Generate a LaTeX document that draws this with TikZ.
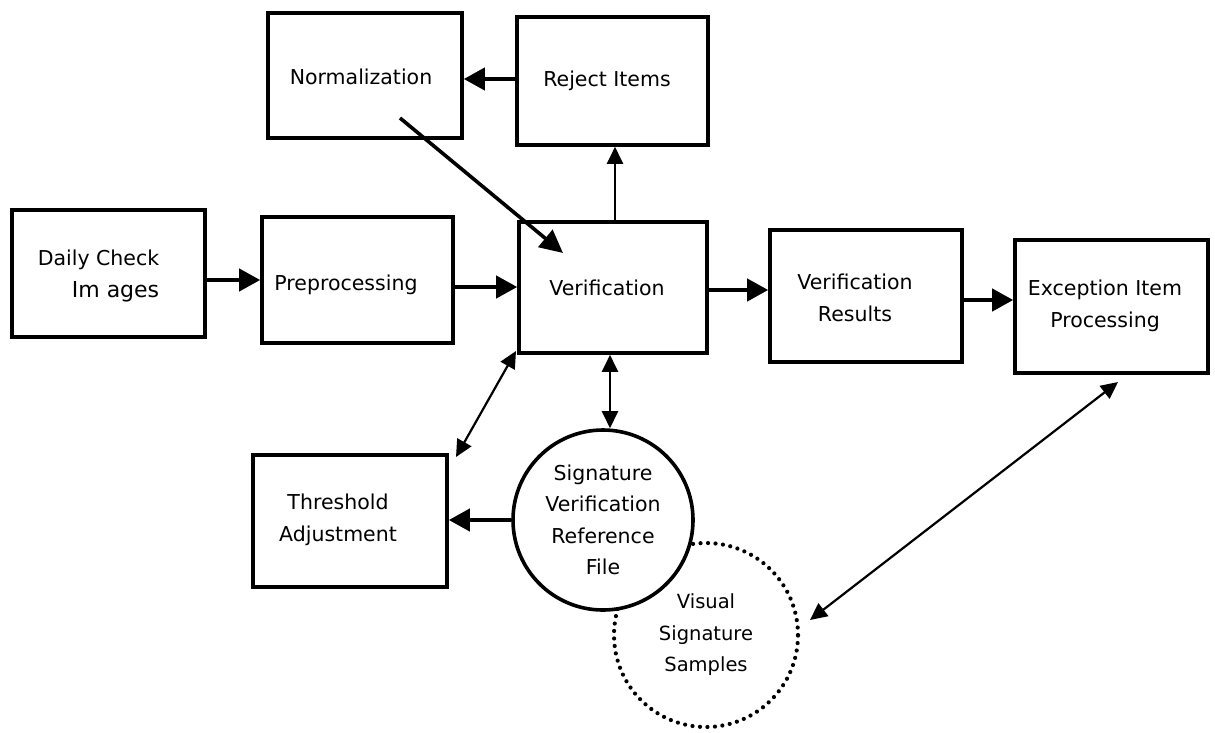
\documentclass[tikz,border=0pt]{standalone}
\usepackage{fontspec}
\setmainfont{DejaVu Sans}
\usetikzlibrary{arrows.meta,calc}
\begin{document}
\begin{tikzpicture}[x=1pt,y=-1pt,
  procbox/.style={draw, line width=3.6pt, fill=white, inner sep=0pt},
  lbl/.style={font=\fontsize{20.5}{31.5}\selectfont, align=center, inner sep=0pt},
  bigarrow/.style={line width=4pt, -{Triangle[length=21pt,width=22pt]}},
  thinarrow/.style={line width=2.2pt, -{Triangle[length=17pt,width=16pt]}},
  dblarrow/.style={line width=2.2pt, {Triangle[length=17pt,width=16pt]}-{Triangle[length=17pt,width=16pt]}},
  solidcirc/.style={circle, draw, line width=3.6pt, fill=white, inner sep=0pt, minimum size=180pt, font=\fontsize{20.5}{31.5}\selectfont, align=center},
  dotcirc/.style={circle, draw, line width=4.2pt, dash pattern=on 0pt off 7.5pt, line cap=round, inner sep=0pt, minimum size=184pt, font=\fontsize{19.5}{31.5}\selectfont, align=center}
]
\useasboundingbox (0,0) rectangle (1215,732);

% boxes
\node[procbox, minimum width=194pt, minimum height=125pt] (norm) at (365,75.5) {};
\node[procbox, minimum width=191pt, minimum height=128pt] (reject) at (612.5,81) {};
\node[procbox, minimum width=193pt, minimum height=127pt] (daily) at (108.5,273.5) {};
\node[procbox, minimum width=191pt, minimum height=126pt] (pre) at (357.5,280) {};
\node[procbox, minimum width=188pt, minimum height=131pt] (verif) at (613,287.5) {};
\node[procbox, minimum width=192pt, minimum height=132pt] (vr) at (866,296) {};
\node[procbox, minimum width=193pt, minimum height=133pt] (exc) at (1111.5,306.5) {};
\node[procbox, minimum width=194pt, minimum height=132pt] (thr) at (350,521) {};

% labels
\node[lbl] (normL) at (361,77) {Normalization};
\node[lbl] (rejectL) at (607,81) {Reject Items};
\node[lbl, align=right] (dailyL) at (98.5,276) {Daily Check\\{\fontsize{22}{31.5}\selectfont Im ages}};
\node[lbl] (preL) at (346,285) {Preprocessing};
\node[lbl] (verifL) at (607,288) {Verification};
\node[lbl] (vrL) at (855,298) {Verification\\Results};
\node[lbl] (excL) at (1105,306) {Exception Item\\Processing};
\node[lbl] (thrL) at (338,520) {Threshold\\Adjustment};

% circles
\node[dotcirc] (vis) at (706,635) {Visual\\Signature\\Samples};
\node[solidcirc] (sig) at (603,520) {Signature\\Verification\\Reference\\File};

% connectors
\draw[bigarrow] (daily.east |- 0,280) -- (pre.west |- 0,280);
\draw[bigarrow] (pre.east |- 0,287) -- (verif.west |- 0,287);
\draw[bigarrow] (verif.east |- 0,290) -- (vr.west |- 0,290);
\draw[bigarrow] (vr.east |- 0,300) -- (exc.west |- 0,300);
\draw[bigarrow] (reject.west |- 0,79) -- (norm.east |- 0,79);
\draw[thinarrow] (verif.north -| 615,0) -- (reject.south -| 615,0);
\coordinate (n1) at (400,118);
\coordinate (v1) at (563,253);
\draw[line width=3.6pt, -{Triangle[length=23pt,width=22pt]}] (n1) -- (v1);
\draw[dblarrow] (verif.south -| 610,0) -- (sig.north -| 610,0);
\coordinate (vc) at (516,351);
\coordinate (tc) at (456,457);
\draw[dblarrow] (vc) -- (tc);
\draw[bigarrow] (sig.west) -- (thr.east |- sig.west);
\coordinate (ec) at (1118,382);
\coordinate (vc2) at (810,620);
\draw[dblarrow] (ec) -- (vc2);
\end{tikzpicture}
\end{document}
